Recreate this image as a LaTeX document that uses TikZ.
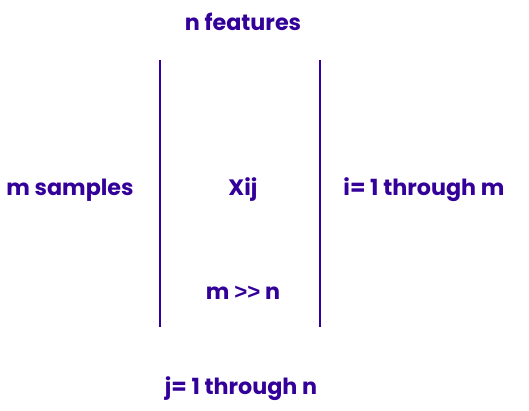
\documentclass[tikz,border=0pt]{standalone}
\usepackage{fontspec}
\setmainfont{Poppins}
\newfontfamily\gtfont{Liberation Sans}
\usepackage{xcolor}
\definecolor{matrixink}{HTML}{330099}
\usetikzlibrary{positioning}
\tikzset{
  lbl/.style={text=matrixink, font=\bfseries\fontsize{19}{22}\selectfont, inner sep=0pt},
  bar/.style={draw=matrixink, line width=2.4pt}
}
\begin{document}
\begin{tikzpicture}[x=0.03cm, y=-0.03cm]
    \useasboundingbox (0,0) rectangle (529,410);

    % Define the ends of the two bars
    \coordinate (L1) at (160,60);
    \coordinate (L2) at (160,327);
    \coordinate (R1) at (320,60);
    \coordinate (R2) at (320,327);

    % Draw the bars
    \draw[bar] (L1) -- (L2);
    \draw[bar] (R1) -- (R2);

    % Labels
    \node[lbl] (feat) at (243,22) {n features};
    \node[lbl] (samp) at (70,190) {m samples};
    \node[lbl] (xij) at (243,190) {Xij};
    \node[lbl] (irange) at (424,190) {i= 1 through m};
    \node[lbl] (mgn) at (243,293) {m {\gtfont\bfseries >{}>} n};
    \node[lbl] (jrange) at (241,389) {j= 1 through n};
  \end{tikzpicture}
\end{document}
